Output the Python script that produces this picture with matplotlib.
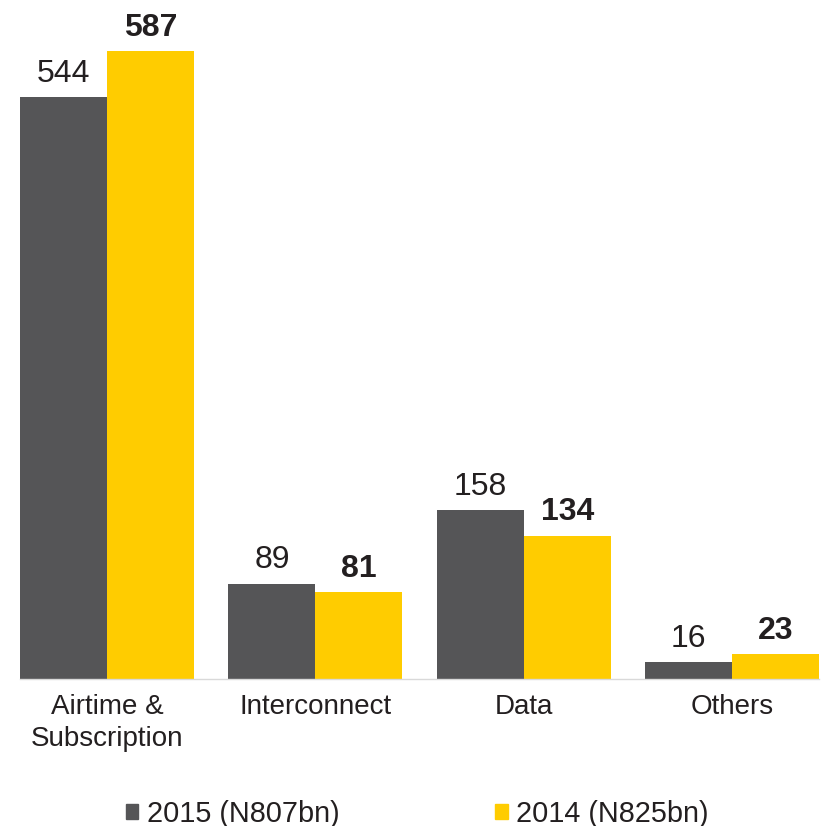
import matplotlib.pyplot as plt
import numpy as np
from matplotlib.patches import Patch

plt.rcParams['font.family'] = ['Liberation Sans', 'DejaVu Sans']

categories = ['Airtime &\nSubscription', 'Interconnect', 'Data', 'Others']
rev_2015 = [544, 89, 158, 16]
rev_2014 = [587, 81, 134, 23]
series_labels = ['2015 (N807bn)', '2014 (N825bn)']

gray = '#555557'
yellow = '#FFCC00'
txt = '#231F20'

fig = plt.figure(figsize=(8.21, 8.26), dpi=100)
ax = fig.add_axes([20 / 821, 147 / 826, 799 / 821, 679 / 826])

x = np.arange(len(categories))
w = 0.417
b1 = ax.bar(x - w / 2, rev_2015, w, color=gray)
b2 = ax.bar(x + w / 2, rev_2014, w, color=yellow)

for r, v in zip(b1, rev_2015):
    ax.annotate(str(v), (r.get_x() + r.get_width() / 2, v), xytext=(0, 6),
                textcoords='offset points', ha='center', va='bottom',
                fontsize=23, color=txt)
for r, v in zip(b2, rev_2014):
    ax.annotate(str(v), (r.get_x() + r.get_width() / 2, v), xytext=(0, 6),
                textcoords='offset points', ha='center', va='bottom',
                fontsize=23, color=txt, fontweight='bold')

ax.set_xlim(-2 * w / 2 - 0.0005, 3 + w)
ax.set_ylim(0, 679 / 1.07)
ax.set_xticks(x)
ax.set_xticklabels(categories, fontsize=20, color=txt, linespacing=1.3)
ax.tick_params(axis='x', length=0, pad=11)
ax.set_yticks([])
for s in ['top', 'left', 'right']:
    ax.spines[s].set_visible(False)
ax.spines['bottom'].set_color('#D9D9D9')
ax.spines['bottom'].set_linewidth(1)

handles = [Patch(color=gray), Patch(color=yellow)]
fig.legend(handles, series_labels, loc='center', bbox_to_anchor=(0.508, 0.015),
           ncol=2, frameon=False, fontsize=20.8, handlelength=0.44,
           handleheight=0.44, handletextpad=0.28, columnspacing=5.4,
           labelcolor=txt)

fig.savefig('out.png', dpi=100)
